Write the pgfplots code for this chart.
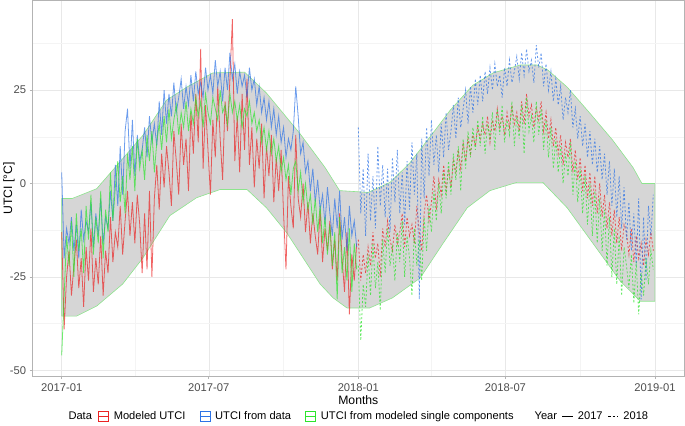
\documentclass[border=0pt]{standalone}
\usepackage{fontspec}
\setmainfont{Liberation Sans}
\usepackage{pgfplots}
\usepackage{pgfplotstable}
\pgfplotsset{compat=1.18}

\definecolor{cred}{RGB}{235,35,35}
\definecolor{cblue}{RGB}{45,115,230}
\definecolor{cgreen}{RGB}{45,228,45}
\definecolor{ribfill}{RGB}{214,214,214}
\definecolor{ribline}{RGB}{140,228,140}
\definecolor{gmaj}{RGB}{232,232,232}
\definecolor{gmin}{RGB}{244,244,244}
\definecolor{border}{RGB}{179,179,179}
\definecolor{ticklab}{RGB}{77,77,77}

\newcommand{\gap}[1]{\rule{#1}{0pt}}

\pgfplotstableread{
d r b g
0 -13 3 -46
3 -39 -20 -30
6 -25 -12 -14
9 -18 -16 -22
12 -30 -9 -10
15 -22 -18 -25
18 -15 -11 -8
21 -28 -20 -18
24 -20 -7 -12
27 -33 -15 -24
30 -17 -10 -6
33 -26 -13 -15
36 -12 -5 -3
39 -29 -17 -19
42 -20 -8 -9
45 -27 -14 -16
48 -14 -4 -2
51 -30 -16 -20
54 -18 -9 -7
57 -24 -12 -13
60 -9 -2 3
63 -21 -10 -10
66 -13 5 -1
69 -17 -6 6
72 -6 10 -5
75 -19 -3 2
78 -10 14 -8
81 -2 20 8
84 -14 4 1
87 -5 17 10
90 -16 2 -2
93 -3 13 12
96 -11 6 4
99 -24 9 9
102 -8 15 1
105 -23 7 13
108 -2 18 6
111 -25 11 14
114 -4 16 3
117 5 10 11
120 -7 22 16
123 8 13 9
126 -1 25 18
129 10 16 11
132 3 24 20
135 -6 18 12
138 14 27 17
141 6 19 21
144 -3 23 13
147 16 28 19
150 5 20 15
153 12 26 22
156 -2 21 14
159 19 29 20
162 8 22 16
165 24 30 23
168 11 24 18
171 36 27 22
174 4 23 15
177 21 31 24
180 9 25 19
183 -3 29 16
186 17 24 23
189 7 33 20
192 26 26 17
195 12 30 25
198 1 22 19
201 22 31 21
204 14 25 16
207 28 35 24
210 44 28 19
213 6 32 22
216 18 24 17
219 3 30 21
222 24 26 15
225 9 29 20
228 28 23 18
231 5 31 22
234 15 25 16
237 -1 28 19
240 12 21 14
243 4 26 17
246 16 19 11
249 -4 23 15
252 10 17 9
255 2 22 14
258 13 15 8
261 -5 20 12
264 7 13 6
267 -2 18 10
270 9 11 3
273 -8 15 7
276 -23 7 1
279 2 12 5
282 -6 9 -3
285 -12 14 4
288 13 26 6
291 -4 18 -2
294 -9 8 3
297 0 11 -5
300 -13 3 0
303 -5 6 -7
306 -16 -2 -3
309 -8 4 -11
312 -14 -5 -4
315 -19 1 -13
318 -7 -7 -6
321 -21 -3 -16
324 -12 -11 -9
327 -18 -1 -19
330 -10 -8 -11
333 -23 -14 -22
336 -15 -4 -13
339 -26 -12 -31
342 -8 -2 -9
345 -20 -15 -24
348 -29 -9 -17
351 -13 -18 -26
354 -35 -6 -12
357 -19 -14 -29
360 -26 -10 -16
363 -16 -17 -23
}\dataA

\pgfplotstableread{
d r b g
365 -15 15 -22
368 -26 -8 -42
371 -19 4 -27
374 -24 -14 -33
377 -17 8 -19
380 -22 -10 -30
383 -13 2 -16
386 -20 -12 -28
389 -16 10 -21
392 -25 -6 -34
395 -12 5 -15
398 -17 -9 -24
401 -10 4 -12
404 -15 -13 -22
407 -18 7 -17
410 -11 -5 -26
413 -16 9 -13
416 -13 -8 -21
419 -8 3 -10
422 -17 -11 -25
425 -9 6 -14
428 -14 -7 -20
431 -11 11 -30
434 -16 -3 -12
437 -6 8 -22
440 -13 -31 -15
443 -18 12 -26
446 -8 -4 -9
449 -3 15 -18
452 -10 2 -6
455 -5 17 -13
458 2 5 -2
461 -7 13 -10
464 1 3 0
467 -3 16 -8
470 5 7 3
473 -2 19 -4
476 4 9 6
479 -1 14 -3
482 6 21 8
485 3 12 1
488 9 23 10
491 4 15 -2
494 11 20 12
497 6 25 4
500 12 16 14
503 8 26 7
506 13 19 15
509 10 28 9
512 15 21 17
515 12 29 10
518 16 22 18
521 13 30 8
524 18 24 16
527 11 31 12
530 17 25 19
533 14 32 9
536 20 26 20
539 15 29 13
542 18 23 21
545 13 31 11
548 19 26 17
551 15 33 13
554 21 27 22
557 16 30 10
560 19 34 18
563 14 28 12
566 22 35 21
569 16 29 8
572 24 36 23
575 18 30 14
578 21 33 18
581 15 27 11
584 20 37 22
587 17 31 13
590 22 35 20
593 14 26 9
596 19 32 17
599 12 25 7
602 17 30 15
605 10 22 4
608 15 28 12
611 8 21 3
614 13 26 10
617 5 17 0
620 11 23 8
623 7 19 2
626 12 25 11
629 3 15 -3
632 9 20 6
635 1 12 -5
638 7 18 4
641 -2 10 -8
644 5 16 2
647 -4 7 -11
650 3 14 0
653 -6 5 -14
656 2 12 -2
659 -8 3 -16
662 0 10 -4
665 -9 1 -18
668 -3 8 -7
671 -12 -3 -22
674 -5 6 -9
677 -14 -6 -25
680 -7 4 -12
683 -16 -9 -27
686 -9 2 -14
689 -18 -12 -30
692 -11 -1 -17
695 -13 -15 -22
698 -19 -5 -28
701 -12 -18 -19
704 -21 -8 -32
707 -14 -22 -21
710 -20 -4 -35
713 -16 -31 -24
716 -22 -9 -30
719 -15 -26 -20
722 -19 -6 -27
725 -13 -14 -18
728 -18 -3 -23
}\dataB

\begin{document}
\begin{tikzpicture}
\begin{axis}[
  width=652bp, height=376bp, scale only axis,
  xmin=-36.5, xmax=766.5, ymin=-51.7, ymax=49,
  xtick={0,181,365,546,730},
  xticklabels={2017-01,2017-07,2018-01,2018-07,2019-01},
  minor xtick={90,273,455,638},
  ytick={-50,-25,0,25}, yticklabels={-50,-25,0,25},
  minor ytick={-37.5,-12.5,12.5,37.5},
  grid=both,
  major grid style={gmaj, line width=0.5pt},
  minor grid style={gmin, line width=0.4pt},
  axis line style={border, line width=0.8pt},
  tick style={border, line width=0.6pt},
  tick align=outside, major tick length=2.5bp, minor tick length=0pt,
  xtick pos=left, ytick pos=left,
  ticklabel style={font=\fontsize{11.2bp}{13bp}\selectfont, text=ticklab},
  xticklabel style={yshift=-0.5bp},
  xlabel={Months}, ylabel={UTCI [°C]},
  xlabel style={font=\fontsize{12.2bp}{14bp}\selectfont, at={(axis description cs:0.5,-0.0625)}, anchor=center},
  ylabel style={font=\fontsize{12.2bp}{14bp}\selectfont, at={(axis description cs:-0.0353,0.5)}, anchor=center},
  legend style={at={(0.5,-0.106)}, anchor=center, legend columns=-1, draw=none, fill=none,
    font=\fontsize{11.1bp}{13bp}\selectfont,
    nodes={inner xsep=0pt},
    /tikz/every even column/.append style={column sep=0bp},
    /tikz/every odd column/.append style={column sep=0bp}},
  legend cell align=left,
]
\addplot[fill=ribfill, draw=ribline, line width=0.6pt, forget plot] coordinates {
(0,-4) (13,-4) (43,-1.4) (100,12.9) (129,22.3) (154,25.8) (186,29.6) (225,29.8) (252,24.2) (293,13.4) (324,4.3) (342,-1.9) (364,-2.2) (377,-2.4) (404,0.3) (428,5.4) (453,12.4) (478,19.6) (506,26.3) (531,29.6) (564,31.7) (585,31.7) (598,30.4) (622,25.8) (650,18.8) (678,11.6) (703,4.3) (714,0) (730,0)
(730,-31.5) (712,-31.5) (687,-26) (654,-16.1) (622,-6.5) (592,0.3) (560,0.3) (527,-1.9) (499,-6.5) (469,-16.1) (441,-25.3) (407,-30.6) (379,-33.3) (364,-33.3) (351,-33.3) (334,-30.6) (318,-26.9) (277,-13.2) (252,-6.5) (228,-1.6) (195,-1.6) (166,-3.8) (133,-8.6) (100,-19.9) (75,-26.9) (43,-32.8) (18,-35.5) (0,-35.5) (0,-4)
};

\addplot[cred, draw opacity=0.7, line width=0.8pt, forget plot] table[x=d, y=r] {\dataA};
\addplot[cblue, draw opacity=0.7, line width=0.8pt, forget plot] table[x=d, y=b] {\dataA};
\addplot[cgreen, draw opacity=0.7, line width=0.8pt, forget plot] table[x=d, y=g] {\dataA};
\addplot[cred, draw opacity=0.75, line width=0.8pt, dash pattern=on 2bp off 2bp, forget plot] table[x=d, y=r] {\dataB};
\addplot[cblue, draw opacity=0.75, line width=0.8pt, dash pattern=on 2bp off 2bp, forget plot] table[x=d, y=b] {\dataB};
\addplot[cgreen, draw opacity=0.75, line width=0.8pt, dash pattern=on 2bp off 2bp, forget plot] table[x=d, y=g] {\dataB};

\addlegendimage{empty legend}
\addlegendentry{Data\gap{6bp}}
\addlegendimage{legend image code/.code={\draw[cred, line width=0.6pt, fill=white] (0bp,-5bp) rectangle (10bp,5bp); \draw[cred, line width=0.8pt] (0bp,0bp) -- (10bp,0bp);}}
\addlegendentry{\gap{5bp}Modeled UTCI\gap{14bp}}
\addlegendimage{legend image code/.code={\draw[cblue, line width=0.6pt, fill=white] (0bp,-5bp) rectangle (10bp,5bp); \draw[cblue, line width=0.8pt] (0bp,0bp) -- (10bp,0bp);}}
\addlegendentry{\gap{5bp}UTCI from data\gap{14bp}}
\addlegendimage{legend image code/.code={\draw[cgreen, line width=0.6pt, fill=white] (0bp,-5bp) rectangle (10bp,5bp); \draw[cgreen, line width=0.8pt] (0bp,0bp) -- (10bp,0bp);}}
\addlegendentry{\gap{5bp}UTCI from modeled single components\gap{21bp}}
\addlegendimage{empty legend}
\addlegendentry{Year\gap{5bp}}
\addlegendimage{legend image code/.code={\draw[black, line width=0.8pt] (0bp,0bp) -- (10bp,0bp);}}
\addlegendentry{\gap{5bp}2017\gap{5bp}}
\addlegendimage{legend image code/.code={\draw[black, line width=0.8pt, dash pattern=on 2.5bp off 2bp] (0bp,0bp) -- (10bp,0bp);}}
\addlegendentry{\gap{5bp}2018}
\end{axis}
\end{tikzpicture}
\end{document}
